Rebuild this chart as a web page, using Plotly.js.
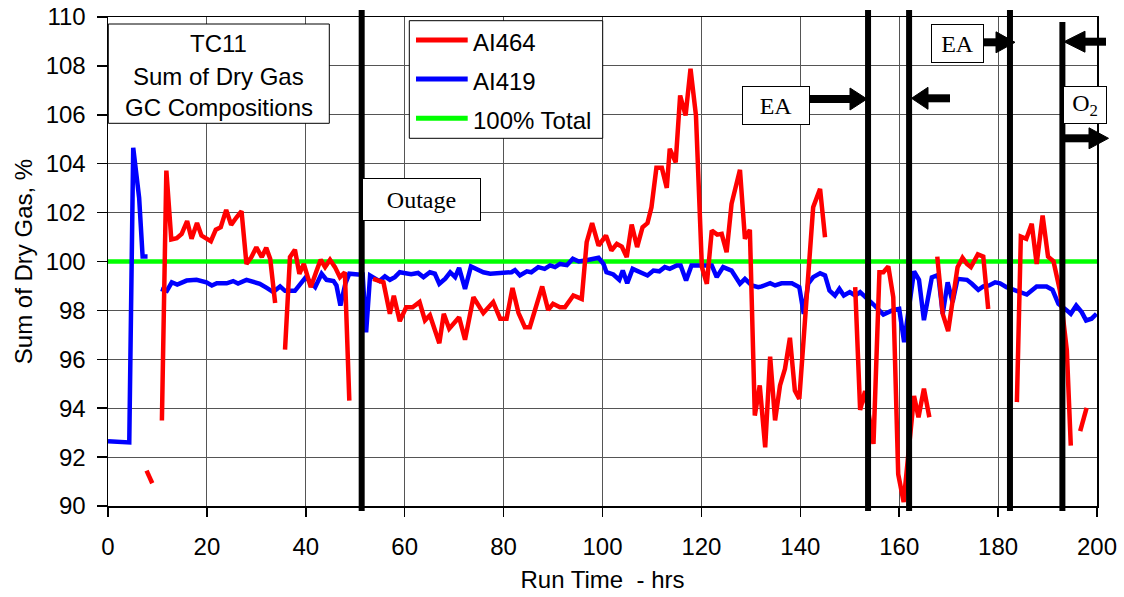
<!DOCTYPE html>
<html><head><meta charset="utf-8">
<script src="https://cdn.plot.ly/plotly-3.0.1.min.js"></script>
<style>html,body{margin:0;padding:0;background:#fff}#chart{width:1124px;height:597px}</style>
</head><body><div id="chart"></div>
<script>
// ---- data ----
const runTimeAI464 = [7.8, 8.95, null,
  10.9, 11.8, 12.8, 13.9, 14.9, 16.0, 16.9, 18.0, 18.9, 20.0, 20.8, 21.8, 22.8, 23.9, 24.9, 26.0, 27.0, 28.0, 29.0, 30.0, 31.1, 32.0, 32.8, 33.8, null,
  35.8, 36.8, 37.8, 38.7, 39.6, 41.0, 42.2, 43.0, 43.9, 44.9, 45.9, 46.9, 47.9, 48.8, null,
  53.6, 55.7, 57.0, 57.8, 59.0, 60.3, 61.6, 63.0, 64.1, 65.1, 67.0, 67.9, 69.0, 71.0, 72.2, 73.9, 75.9, 77.9, 79.3, 80.6, 81.8, 83.0, 84.3, 85.3, 87.8, 89.0, 90.0, 91.4, 92.4, 94.1, 95.8, 96.8, 97.9, 99.2, 100.7, 101.8, 102.9, 103.9, 104.9, 105.9, 107.0, 108.1, 109.1, 109.9, 110.9, 112.0, 113.0, 113.6, 114.8, 115.7, 116.8, 117.8, 118.9, 120.1, 121.1, 122.1, 123.2, 124.1, 125.1, 126.1, 127.8, 128.8, 129.8, 130.8, 131.8, 132.9, 133.9, 134.9, 135.9, 136.9, 137.9, 138.9, 139.8, 141.0, 142.0, 142.6, 144.0, 145.0, null,
  151.1, 152.1, 153.1, 154.8, 156.0, 156.8, 157.8, 158.8, 159.8, 160.9, 163.0, 163.9, 165.0, 166.1, null,
  167.7, 168.8, 169.9, 171.0, 171.8, 172.8, 173.7, 174.5, 175.9, 177.0, 178.0, null,
  183.8, 184.6, 185.7, 186.8, 187.8, 189.0, 190.1, 191.2, 192.5, 193.9, 194.7, null,
  196.6, 197.9];
const sumAI464 = [91.45, 90.93, null,
  93.5, 103.72, 100.9, 100.95, 101.13, 101.65, 100.93, 101.57, 101.06, 100.9, 100.83, 101.3, 101.4, 102.11, 101.5, 101.81, 102.06, 99.9, 100.18, 100.58, 100.18, 100.56, 100.11, 98.3, null,
  96.4, 100.18, 100.48, 99.5, 99.9, 98.95, 99.63, 100.07, 99.77, 100.07, 99.77, 99.36, 99.56, 94.31, null,
  99.29, 99.15, 97.86, 98.6, 97.56, 98.13, 98.13, 98.34, 97.59, 97.8, 96.66, 97.86, 97.25, 97.72, 96.8, 98.54, 97.89, 98.34, 97.66, 97.66, 98.92, 97.9, 97.31, 97.31, 98.98, 98.02, 98.27, 98.13, 98.13, 98.61, 98.47, 100.79, 101.57, 100.65, 101.06, 100.45, 100.72, 100.61, 100.18, 101.51, 100.59, 101.4, 101.57, 102.22, 103.83, 103.83, 103.01, 104.61, 104.06, 106.79, 105.97, 107.88, 105.97, 99.77, 99.09, 101.27, 101.1, 101.13, 100.38, 102.36, 103.75, 100.93, 101.3, 93.7, 94.93, 92.4, 96.11, 93.5, 94.93, 95.61, 96.88, 94.72, 94.38, 97.72, 100.04, 102.22, 102.97, 100.99, null,
  98.95, 93.93, 94.7, 92.54, 99.56, 99.56, 99.8, 98.54, 91.3, 90.16, 94.5, 93.63, 94.8, 93.63, null,
  100.2, 97.86, 97.15, 98.68, 99.77, 100.15, 99.9, 99.77, 100.29, 100.2, 98.06, null,
  94.25, 101.02, 100.93, 101.54, 99.9, 101.88, 100.2, 100.01, 98.81, 96.36, 92.47, null,
  93.06, 94.01];

const runTimeAI419 = [0, 4.3, 5.1, 6.3, 7.0, 8.0, null,
  10.7, 11.9, 12.9, 14.0, 15.9, 17.9, 19.9, 21.0, 22.0, 24.0, 25.3, 26.3, 28.0, 30.7, 32.1, 33.4, 34.8, 35.8, 37.8, 38.8, 40.0, 41.9, 43.2, 44.2, 45.6, 46.2, 47.0, 48.0, 48.8, 50.6, 51.5, 52.2, 53.0, 54.9, 56.0, 57.0, 58.0, 59.0, 60.4, 61.3, 62.7, 63.8, 65.1, 66.1, 67.0, 68.2, 69.2, 70.2, 71.0, 72.2, 73.4, 74.5, 75.9, 77.3, 80.0, 81.6, 82.3, 83.3, 84.7, 85.6, 87.0, 88.3, 89.4, 90.4, 91.4, 92.8, 94.0, 95.2, 96.5, 97.8, 99.2, 100.2, 100.8, 102.2, 103.4, 104.1, 105.0, 106.1, 107.6, 109.1, 110.3, 111.5, 112.6, 113.6, 115.0, 115.8, 116.9, 118.0, 119.7, 122.1, 123.1, 124.4, 126.1, 127.8, 128.8, 130.2, 131.5, 132.2, 133.9, 134.9, 136.2, 138.3, 139.8, 140.7, 141.6, 142.6, 144.0, 145.0, 145.9, 147.0, 147.9, 148.8, 150.0, 151.1, 152.1, 153.1, 154.8, 156.8, 158.8, 160.0, 161.0,
  163.0, 164.0, 165.0, 166.6, 167.9, 168.8, 169.8, 170.8, 171.8, 173.7, 174.7, 176.0, 177.0, 178.2, 179.4, 180.4, 181.7, 183.4, 185.8, 187.8, 189.8, 191.0, 192.2, 193.9, 194.7, 195.8, 196.9, 197.8, 198.9, 199.9];
const sumAI419 = [92.65, 92.6, 104.65, 102.6, 100.2, 100.2, null,
  98.88, 98.8, 99.15, 99.06, 99.22, 99.25, 99.15, 99.02, 99.11, 99.11, 99.2, 99.1, 99.25, 99.09, 98.92, 98.75, 98.98, 98.8, 98.8, 99.09, 99.36, 98.95, 99.5, 99.25, 99.2, 99.02, 98.2, 99.09, 99.5, 99.47, 99.47, 97.1, 99.43, 99.2, 99.39, 99.25, 99.36, 99.56, 99.53, 99.48, 99.53, 99.36, 99.56, 99.5, 99.09, 99.3, 99.56, 99.36, 99.74, 98.88, 99.8, 99.7, 99.56, 99.5, 99.56, 99.56, 99.65, 99.43, 99.6, 99.56, 99.77, 99.7, 99.84, 99.77, 99.9, 99.85, 100.11, 100.0, 100.04, 100.1, 100.15, 99.9, 99.56, 99.47, 99.25, 99.63, 99.11, 99.7, 99.56, 99.43, 99.63, 99.6, 99.77, 99.7, 99.84, 99.84, 99.22, 99.84, 99.84, 99.84, 99.36, 99.77, 99.63, 99.09, 99.29, 99.02, 98.95, 98.98, 99.11, 99.02, 99.11, 99.11, 98.95, 97.86, 99.09, 99.36, 99.52, 99.43, 98.81, 98.61, 98.88, 98.61, 98.75, 98.61, 98.75, 98.54, 98.24, 97.83, 98.02, 98.06, 96.7,
  99.6, 99.25, 97.6, 99.35, 99.45, 97.86, 99.15, 98.34, 99.29, 99.25, 99.09, 98.84, 98.98, 99.02, 99.15, 99.11, 98.95, 98.84, 98.65, 98.98, 98.98, 98.84, 98.27, 98.0, 97.86, 98.2, 97.93, 97.59, 97.66, 97.86];

const runTimeTotal = [0, 200];
const sumTotal = [100, 100];

const eventLineHours = [51.3, 153.7, 162.0, 182.4, 193.0];
const seriesNames = ['AI464', 'AI419', '100% Total'];
const seriesColors = ['#ff0000', '#0000ff', '#00ff00'];
const boxTitleLines = ['TC11', 'Sum of Dry Gas', 'GC Compositions'];

// ---- layout helpers (pixel -> paper) ----
const ML = 108, MR = 27, MT = 17, MB = 91, FW = 1124, FH = 597;
const PW = FW - ML - MR, PH = FH - MT - MB;
const P = x => (x - ML) / PW;
const Q = y => (FH - MB - y) / PH;
const SANS = 'Liberation Sans, Arial, sans-serif';
const SERIF = 'Liberation Serif, Times New Roman, serif';

const traces = [
  {x: runTimeTotal, y: sumTotal, mode: 'lines', name: seriesNames[2], line: {color: seriesColors[2], width: 4.5}, showlegend: false, hoverinfo: 'skip'},
  {x: runTimeAI419, y: sumAI419, mode: 'lines', name: seriesNames[1], line: {color: seriesColors[1], width: 4.5}, connectgaps: false, showlegend: false},
  {x: runTimeAI464, y: sumAI464, mode: 'lines', name: seriesNames[0], line: {color: seriesColors[0], width: 4.5}, connectgaps: false, showlegend: false}
];

const shapes = [];
const annotations = [];

// vertical event lines
eventLineHours.forEach((h, i) => {
  shapes.push({type: 'line', xref: 'x', yref: 'paper', x0: h, x1: h,
    y0: Q(511), y1: Q(i === 4 ? 22 : 10), line: {color: '#000', width: 6}});
});

// title box (TC11)
shapes.push({type: 'rect', xref: 'paper', yref: 'paper', x0: P(108.3), x1: P(329.3), y0: Q(123.3), y1: Q(24),
  line: {color: '#000', width: 1}, fillcolor: '#fff'});
const titleLineY = [43.5, 76.5, 107];
boxTitleLines.forEach((t, i) => {
  annotations.push({xref: 'paper', yref: 'paper', x: P(218.8), y: Q(titleLineY[i]), xanchor: 'center', yanchor: 'middle',
    text: t, showarrow: false, font: {family: SANS, size: 24, color: '#000'}});
});

// legend box
shapes.push({type: 'rect', xref: 'paper', yref: 'paper', x0: P(409.3), x1: P(602.7), y0: Q(138.3), y1: Q(20.7),
  line: {color: '#000', width: 1}, fillcolor: '#fff'});
const legendY = [40, 79, 118.3];
seriesNames.forEach((n, i) => {
  shapes.push({type: 'line', xref: 'paper', yref: 'paper', x0: P(416), x1: P(467.7), y0: Q(legendY[i]), y1: Q(legendY[i]),
    line: {color: seriesColors[i], width: 5}});
  annotations.push({xref: 'paper', yref: 'paper', x: P(471), y: Q(legendY[i] + 2), xanchor: 'left', yanchor: 'middle',
    text: n, showarrow: false, font: {family: SANS, size: 24, color: '#000'}});
});

// arrows
function arrow(shaftFrom, baseX, tipX, y, half) {
  shapes.push({type: 'line', xref: 'paper', yref: 'paper', x0: P(shaftFrom), x1: P(baseX), y0: Q(y), y1: Q(y),
    line: {color: '#000', width: 8}});
  shapes.push({type: 'path', xref: 'paper', yref: 'paper',
    path: `M ${P(baseX)} ${Q(y - half)} L ${P(tipX)} ${Q(y)} L ${P(baseX)} ${Q(y + half)} Z`,
    fillcolor: '#000', line: {color: '#000', width: 1}});
}
arrow(809, 850, 867, 99, 11);
arrow(950, 928, 911.5, 98.3, 11);
arrow(983, 996, 1015, 42.3, 10.5);
arrow(1106, 1085, 1064, 41.7, 10.5);
arrow(1063, 1089, 1108.5, 138.3, 10.5);

// labelled boxes
function box(x, y, w, h, text, family) {
  annotations.push({xref: 'paper', yref: 'paper', x: P(x), y: Q(y), xanchor: 'left', yanchor: 'top',
    width: w, height: h, text: text, showarrow: false, align: 'center', valign: 'middle',
    bgcolor: '#fff', bordercolor: '#000', borderwidth: 1, borderpad: 0,
    font: {family: family, size: 24, color: '#000'}});
}
box(362.3, 177.7, 117, 41, 'Outage', SERIF);
box(741.7, 85.7, 66, 37, 'EA', SERIF);
box(930.7, 24, 51, 37, 'EA', SERIF);
box(1063.3, 86, 42, 36, 'O<sub>2</sub>', SERIF);

const layout = {
  width: FW, height: FH,
  margin: {l: ML, r: MR, t: MT, b: MB, pad: 0},
  paper_bgcolor: '#fff', plot_bgcolor: '#fff',
  showlegend: false,
  font: {family: SANS, size: 24, color: '#000'},
  xaxis: {range: [0, 200], dtick: 20, tick0: 0, showgrid: true, gridcolor: '#555', gridwidth: 1,
    zeroline: false, showline: true, linecolor: '#000', linewidth: 1.5, mirror: true,
    ticks: 'outside', ticklen: 9, tickcolor: '#000', tickwidth: 1.5, ticklabelstandoff: 10,
    tickfont: {family: SANS, size: 24, color: '#000'},
    title: {text: 'Run Time\u00a0 - hrs', font: {family: SANS, size: 24, color: '#000'}, standoff: 12}},
  yaxis: {range: [90, 110], dtick: 2, tick0: 90, showgrid: true, gridcolor: '#555', gridwidth: 1,
    zeroline: false, showline: true, linecolor: '#000', linewidth: 1.5, mirror: true,
    ticks: 'outside', ticklen: 10, tickcolor: '#000', tickwidth: 1.5, ticklabelstandoff: 6,
    tickfont: {family: SANS, size: 24, color: '#000'},
    title: {text: 'Sum of Dry Gas, %', font: {family: SANS, size: 24, color: '#000'}, standoff: 6}},
  shapes: shapes,
  annotations: annotations
};

Plotly.newPlot('chart', traces, layout, {displayModeBar: false, staticPlot: true});
</script>
</body></html>
